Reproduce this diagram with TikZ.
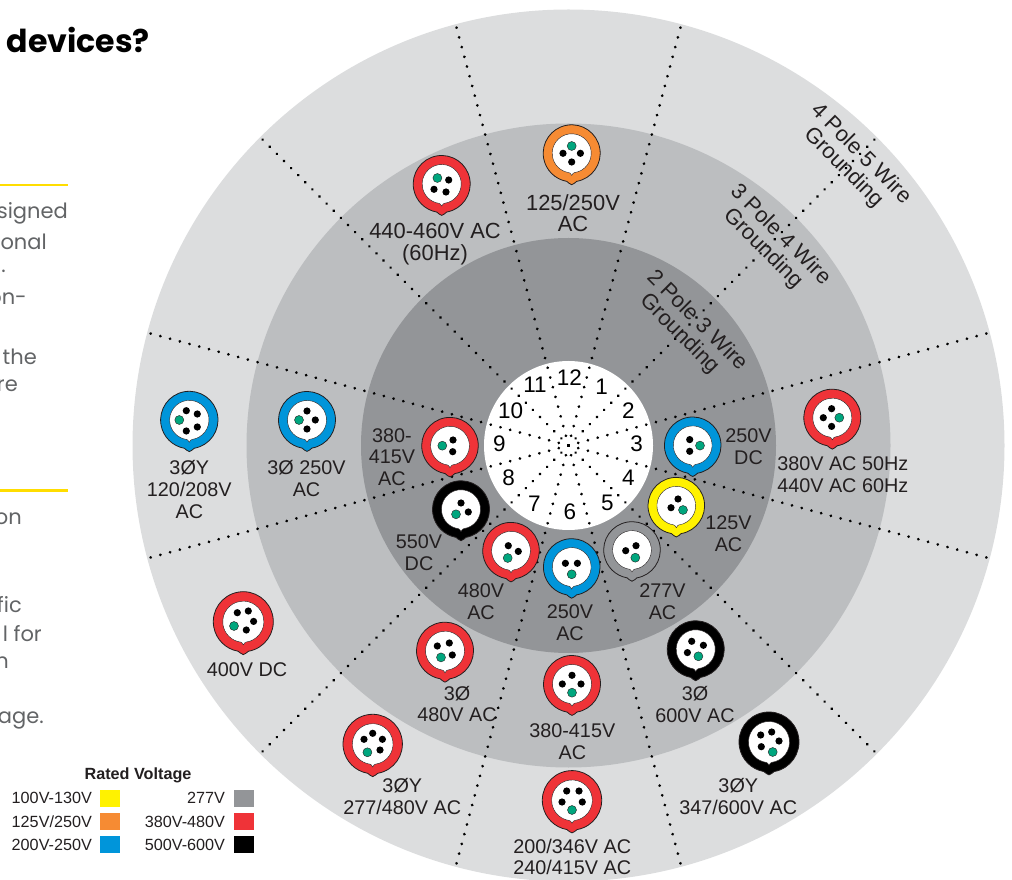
\documentclass[tikz,border=0pt]{standalone}
\usepackage{fontspec}
\setmainfont{Liberation Sans}
\newfontfamily\headfont{Poppins}
\usetikzlibrary{positioning}

\definecolor{ringouter}{RGB}{220, 221, 222}
\definecolor{ringmiddle}{RGB}{188, 190, 192}
\definecolor{ringinner}{RGB}{147, 149, 152}
\definecolor{voltyellow}{RGB}{255, 242, 0}
\definecolor{voltorange}{RGB}{246, 139, 51}
\definecolor{voltblue}{RGB}{0, 149, 218}
\definecolor{voltgray}{RGB}{147, 149, 152}
\definecolor{voltred}{RGB}{239, 51, 56}
\definecolor{voltblack}{RGB}{0, 0, 0}
\definecolor{groundpin}{RGB}{0, 166, 126}
\definecolor{rulegold}{RGB}{255, 221, 0}
\definecolor{bodygray}{RGB}{98, 100, 102}
\definecolor{inktext}{RGB}{35, 31, 32}

\tikzstyle{ring} = [circle, draw=none, inner sep=0pt]
\tikzstyle{spoke} = [draw=black, line width=3pt, line cap=round, dash pattern=on 0.01pt off 10.05pt]
\tikzstyle{plugbody} = [circle, draw=none, inner sep=0pt]
\tikzstyle{plugedge} = [draw=inktext, line width=0.8pt]
\tikzstyle{plugface} = [draw=inktext, line width=0.4pt, fill=white]
\tikzstyle{blackpin} = [fill=black]
\tikzstyle{greenpin} = [draw=inktext, line width=0.4pt, fill=groundpin]
\tikzstyle{volt} = [text=inktext, align=center, inner sep=0pt, font=\fontsize{19.8}{21.8}\selectfont]
\tikzstyle{voltlarge} = [volt, font=\fontsize{21.9}{21.8}\selectfont]
\tikzstyle{hour} = [text=black, inner sep=0pt, font=\fontsize{22.5}{24}\selectfont]
\tikzstyle{pole} = [voltlarge, rotate=-45]
\tikzstyle{swatch} = [draw=none, inner sep=0pt, minimum width=20pt, minimum height=16.7pt]
\tikzstyle{legendtext} = [text=inktext, inner sep=0pt, font=\fontsize{16.2}{17}\selectfont]
\tikzstyle{bodytext} = [text=bodygray, inner sep=0pt, anchor=east, font=\headfont\fontsize{21}{24}\selectfont]
\tikzstyle{goldrule} = [draw=rulegold, line width=2.2pt]

% name, position, radius, colour, green pin, black pins
\newcommand{\plug}[6]{%
  \node[plugbody, minimum size={2*#3pt}] (#1) at (#2) {};
  \begin{scope}[shift={(#1.center)}]
    \pgfmathsetmacro{\rin}{0.685*#3}
    \draw[plugedge, fill=#4] (-80:#3) arc[start angle=-80, end angle=260, radius=#3]
      .. controls (-3.2,{-#3-0.4}) and (-2,{-#3-2.9}) .. (0,{-#3-2.9})
      .. controls (2,{-#3-2.9}) and (3.2,{-#3-0.4}) .. cycle;
    \draw[plugface] (-82:\rin) arc[start angle=-82, end angle=262, radius=\rin]
      .. controls (-2,{-\rin-0.1}) and (-1,{-\rin-0.4}) .. (0,{-\rin-2.6})
      .. controls (1,{-\rin-0.4}) and (2,{-\rin-0.1}) .. cycle;
    \draw[greenpin] (#5) circle[radius=4.5];
    \foreach \px/\py in {#6} \fill[blackpin] (\px,\py) circle[radius=3.6];
  \end{scope}
}

\begin{document}
\begin{tikzpicture}[x=1pt, y=1pt]
\useasboundingbox (0,0) rectangle (1012,879);

% rings ==================================
\coordinate (hub) at (568.5,433.5);
\node[ring, fill=ringouter, minimum size=872pt] (outer) at (hub) {};
\node[ring, fill=ringmiddle, minimum size=644pt] (middle) at (hub) {};
\node[ring, fill=ringinner, minimum size=415pt] (inner) at (hub) {};
\node[ring, fill=white, minimum size=169pt] (dial) at (hub) {};

% spokes
\coordinate (s1) at ([shift={(75:436)}]hub);
\coordinate (s2) at ([shift={(45:436)}]hub);
\coordinate (s3) at ([shift={(15:436)}]hub);
\coordinate (s4) at ([shift={(-15:436)}]hub);
\coordinate (s5) at ([shift={(-45:436)}]hub);
\coordinate (s6) at ([shift={(-75:436)}]hub);
\coordinate (s7) at ([shift={(-105:436)}]hub);
\coordinate (s8) at ([shift={(-135:436)}]hub);
\coordinate (s9) at ([shift={(-165:436)}]hub);
\coordinate (s10) at ([shift={(165:436)}]hub);
\coordinate (s11) at ([shift={(135:436)}]hub);
\coordinate (s12) at ([shift={(105:436)}]hub);
\path[spoke] (hub) -- (s1);
\path[spoke] (hub) -- (s2);
\path[spoke] (hub) -- (s3);
\path[spoke] (hub) -- (s4);
\path[spoke] (hub) -- (s5);
\path[spoke] (hub) -- (s6);
\path[spoke] (hub) -- (s7);
\path[spoke] (hub) -- (s8);
\path[spoke] (hub) -- (s9);
\path[spoke] (hub) -- (s10);
\path[spoke] (hub) -- (s11);
\path[spoke] (hub) -- (s12);

% clock hours
\node[hour] (h12) at (569.3,501.7) {12};
\node[hour] (h1) at (601.7,492.3) {1};
\node[hour] (h2) at (628.3,468.3) {2};
\node[hour] (h3) at (636.7,435.7) {3};
\node[hour] (h4) at (628.3,401.7) {4};
\node[hour] (h5) at (607.3,376.3) {5};
\node[hour] (h6) at (570,367.3) {6};
\node[hour] (h7) at (534.3,375) {7};
\node[hour] (h8) at (508.7,401.3) {8};
\node[hour] (h9) at (499.3,435.7) {9};
\node[hour] (h10) at (510.7,468.3) {10};
\node[hour] (h11) at (535,494) {11};

% plugs ==================================
\plug{plugsix}{450,433.3}{28.3}{voltred}{-7.7,0}{3/5.7, 2.7/-6}
\plug{plugdc}{461,369.7}{28.5}{voltblack}{-5,-5}{0/6.3, 7.3/-2.7}
\plug{plugfour}{511,328.3}{28.3}{voltred}{-3.3,-7.3}{-2.7/5, 7.3/-0.7}
\plug{plugtwo}{571.7,312}{28.3}{voltblue}{0,-7.3}{-6.3/3.7, 5.7/3.7}
\plug{plugone}{632,329}{28.3}{voltgray}{3.3,-7.7}{-6.3/-0.7, 4/4.3}
\plug{plugyellow}{676.3,373.3}{28.3}{voltyellow}{6.7,-4.3}{1.7/6.7, -5.3/-2}
\plug{plugbluedc}{692.7,433.7}{28.3}{voltblue}{7.3,-0.3}{-3/5.7, -3/-6}

\plug{plugsixty}{441.7,695}{28.5}{voltred}{-4.3,6}{7/4, -7.7/-5.3, 4.3/-8}
\plug{plugorange}{571.7,725.7}{28.5}{voltorange}{0,7.3}{-8.7/0, 8.7/0, 0/-8.7}
\plug{plugdelta}{307,459}{28.5}{voltblue}{-8,0}{0/9, 8.3/0, 0/-9}
\plug{plugfifty}{832.3,461.3}{28.5}{voltred}{7,0}{-0.7/9, -9/0, -0.7/-8.7}
\plug{plugtri}{445,228.3}{28.5}{voltred}{-4,-6.7}{-7.7/4.7, 4.3/7.7, 7.3/-4.3}
\plug{plugfive}{572,195}{28.5}{voltred}{0,-8.7}{0/8.7, -9.7/0, 9/0}
\plug{plugsix00}{695.7,229.7}{28.5}{voltblack}{2.7,-7}{-4/8, 7.7/4, -8.3/-3.3}

\plug{plugwye}{189.3,459}{28.7}{voltblue}{-10,0}{-3/9.3, 8/6, 8/-7, -3/-11}
\plug{plugdcfive}{243.3,257.3}{30}{voltred}{-9.3,-4.3}{-6/9, 5/10.7, 10.3/0.3, 3/-8.3}
\plug{plugwyered}{372.7,135}{29.7}{voltred}{-5.3,-8.3}{0/10.7, -8.7/4.7, 9.7/4.7, 7.3/-6}
\plug{plugbottom}{572,78.7}{29.7}{voltred}{0,-9.7}{-5.3/9.3, 7/9.3, -10/-1.7, 10.3/-1.7}
\plug{plugwyeblack}{769,137}{30}{voltblack}{3.7,-10}{-8.3/7, 2.7/10, 10/1, -7.7/-4.7}

% plug labels
\node[volt, left=6.3pt of plugsix, yshift=-11.3pt] (labsix) {380-\\415V\\AC};
\node[volt, below=-3.5pt of plugdc, xshift=-42pt] (labdc) {550V\\DC};
\node[volt, below=4.3pt of plugfour, xshift=-30pt] (labfour) {480V\\AC};
\node[volt, below=9pt of plugtwo, xshift=-1.7pt] (labtwo) {250V\\AC};
\node[volt, below=5pt of plugone, xshift=30.5pt] (labone) {277V\\AC};
\node[volt, right=0.4pt of plugyellow, yshift=-27.8pt] (labyellow) {125V\\AC};
\node[volt, right=4pt of plugbluedc, yshift=-1.7pt] (labbluedc) {250V\\DC};
\node[voltlarge, below=10.3pt of plugsixty, xshift=-6.7pt] (labsixty) {440-460V AC\\(60Hz)};
\node[voltlarge, below=12pt of plugorange, xshift=1.3pt] (laborange) {125/250V\\AC};
\node[volt, below=11.3pt of plugdelta, xshift=-0.5pt] (labdelta) {3Ø 250V\\AC};
\node[volt, below=10.3pt of plugfifty, xshift=10.5pt] (labfifty) {380V AC 50Hz\\440V AC 60Hz};
\node[volt, below=6.3pt of plugtri, xshift=12pt] (labtri) {3Ø\\480V AC};
\node[volt, below=11pt of plugfive, xshift=0.3pt] (labfive) {380-415V\\AC};
\node[volt, below=8pt of plugsix00, xshift=-0.7pt] (labsix00) {3Ø\\600V AC};
\node[volt, below=11.3pt of plugwye] (labwye) {3ØY\\120/208V\\AC};
\node[volt, below=11pt of plugdcfive, xshift=3.7pt] (labdcfive) {400V DC};
\node[volt, below=4.6pt of plugwyered, xshift=29.6pt] (labwyered) {3ØY\\277/480V AC};
\node[volt, below=8.3pt of plugbottom, xshift=0.3pt] (labbottom) {200/346V AC\\240/415V AC};
\node[volt, below=6.3pt of plugwyeblack, xshift=-30.7pt] (labwyeblack) {3ØY\\347/600V AC};

% pole labels
\node[pole] (poletwo) at (689,550.5) {2 Pole 3 Wire\\Grounding\hspace*{6pt}};
\node[pole] (polethree) at (772.5,636) {3 Pole 4 Wire\\Grounding\hspace*{6pt}};
\node[pole] (polefour) at (853,717) {4 Pole 5 Wire\\Grounding\hspace*{6pt}};

% legend =================================
\node[swatch, fill=voltyellow] (lowv) at (110,80.7) {};
\node[swatch, fill=voltorange, below=6.3pt of lowv] (midv) {};
\node[swatch, fill=voltblue, below=6pt of midv] (highv) {};
\node[swatch, fill=voltgray, right=113.3pt of lowv] (grayv) {};
\node[swatch, fill=voltred, below=6.3pt of grayv] (redv) {};
\node[swatch, fill=voltblack, below=6pt of redv] (blackv) {};
\node[legendtext, left=7.7pt of lowv] (lowtext) {100V-130V};
\node[legendtext, left=7.7pt of midv] (midtext) {125V/250V};
\node[legendtext, left=7.7pt of highv] (hightext) {200V-250V};
\node[legendtext, left=8.3pt of grayv] (graytext) {277V};
\node[legendtext, left=8.3pt of redv] (redtext) {380V-480V};
\node[legendtext, left=8.3pt of blackv] (blacktext) {500V-600V};
\node[legendtext, font=\bfseries\fontsize{16.2}{17}\selectfont, above=7pt of lowv, xshift=28pt] (legendhead) {Rated Voltage};

% side text ==============================
\node[anchor=east, text=black, inner sep=0pt, font=\headfont\bfseries\fontsize{31.6}{34}\selectfont] (heading) at (150,839) {devices?};
\coordinate (rulea) at (0,694);
\coordinate (ruleaend) at (68,694);
\coordinate (ruleb) at (0,388.5);
\coordinate (rulebend) at (68,388.5);
\path[goldrule] (rulea) -- (ruleaend);
\path[goldrule] (ruleb) -- (rulebend);
\node[bodytext] (ta) at (68,666) {signed};
\node[bodytext] (tb) at (47,637) {onal};
\node[bodytext] (tc) at (6,608) {.};
\node[bodytext] (td) at (27,580) {on-};
\node[bodytext] (te) at (37,522) {the};
\node[bodytext] (tf) at (18,493) {re};
\node[bodytext] (tg) at (22,360) {on};
\node[bodytext] (th) at (22,274) {fic};
\node[bodytext] (ti) at (42,245) {l for};
\node[bodytext] (tj) at (9,216) {n};
\node[bodytext] (tk) at (44,159) {age.};

\end{tikzpicture}
\end{document}
